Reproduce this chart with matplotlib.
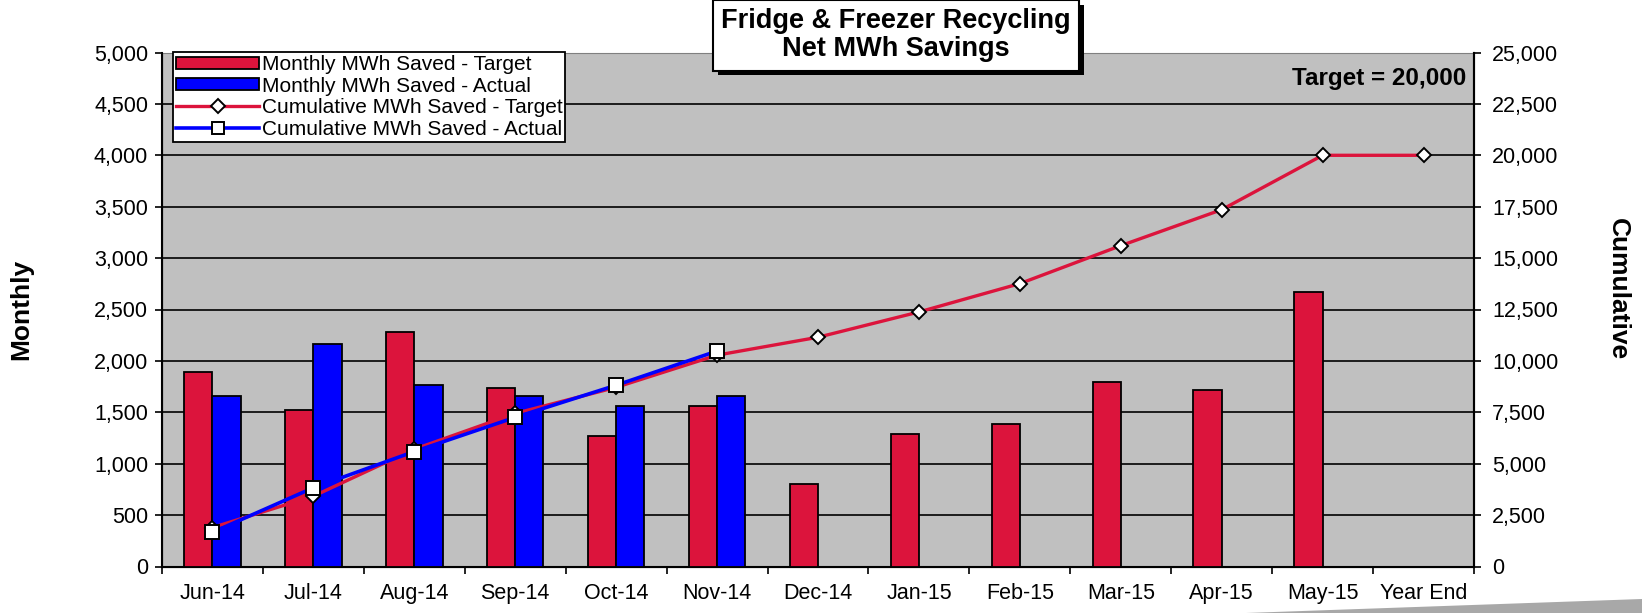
import matplotlib
matplotlib.use('Agg')
import matplotlib.pyplot as plt
import matplotlib.patheffects as pe
from matplotlib.patches import Patch, Polygon
from matplotlib.lines import Line2D
from matplotlib.ticker import FuncFormatter
import numpy as np

plt.rcParams['font.family'] = ['Liberation Sans', 'DejaVu Sans']

# data
months = ['Jun-14', 'Jul-14', 'Aug-14', 'Sep-14', 'Oct-14', 'Nov-14', 'Dec-14',
          'Jan-15', 'Feb-15', 'Mar-15', 'Apr-15', 'May-15', 'Year End']
target_monthly = [1895, 1523, 2285, 1741, 1270, 1565, 804, 1289, 1387, 1797, 1719, 2673]
actual_monthly = [1663, 2168, 1761, 1663, 1565, 1663]
target_cum = [1895, 3420, 5705, 7445, 8715, 10280, 11150, 12380, 13760, 15605, 17355, 20000, 20000]
actual_cum = [1663, 3831, 5592, 7255, 8817, 10480]

RED = '#DC143C'
BLUE = '#0000FF'

fig = plt.figure(figsize=(16.42, 6.13), dpi=100)
ax = fig.add_axes([162/1642, 1 - 566.5/613, (1474-162)/1642, (566.5-52.5)/613])
ax.set_facecolor('#C0C0C0')

x = np.arange(len(months))
w = 0.28
ax.bar(x[:len(target_monthly)] - w/2, target_monthly, w, color=RED, edgecolor='black', linewidth=1.3, zorder=3)
ax.bar(x[:len(actual_monthly)] + w/2, actual_monthly, w, color=BLUE, edgecolor='black', linewidth=1.3, zorder=3)

ax.set_xlim(-0.5, len(months) - 0.5)
ax.set_ylim(0, 5000)
ax.set_yticks(np.arange(0, 5001, 500))
ax.yaxis.set_major_formatter(FuncFormatter(lambda v, p: f'{v:,.0f}'))
ax.grid(axis='y', color='black', linewidth=1.2)
ax.set_axisbelow(True)

ax.set_xticks(x)
ax.set_xticklabels(months)
ax.set_xticks(np.arange(-0.5, len(months), 1), minor=True)
ax.tick_params(axis='x', which='major', length=0, pad=12, labelsize=15.5)
ax.tick_params(axis='x', which='minor', length=5, width=1.2, direction='out')
ax.tick_params(axis='y', length=5, width=1.2, pad=5, labelsize=15.5)

for s in ['left', 'bottom', 'right']:
    ax.spines[s].set_linewidth(1.5)
ax.spines['top'].set_color('#808080')

# cumulative lines on the right axis
ax2 = ax.twinx()
ax2.set_ylim(0, 25000)
ax2.set_yticks(np.arange(0, 25001, 2500))
ax2.yaxis.set_major_formatter(FuncFormatter(lambda v, p: f'{v:,.0f}'))
ax2.tick_params(axis='y', length=5, width=1.2, pad=8, labelsize=15.5)
ax2.spines['right'].set_linewidth(1.5)
ax2.spines['top'].set_visible(False)

ax2.plot(x, target_cum, color=RED, linewidth=2.4, marker='D', markersize=7.5,
         markerfacecolor='white', markeredgecolor='black', markeredgewidth=1.4, zorder=3)
ax2.plot(x[:len(actual_cum)], actual_cum, color=BLUE, linewidth=2.6, marker='s', markersize=9.5,
         markerfacecolor='white', markeredgecolor='black', markeredgewidth=1.4, zorder=4)

ax.set_ylabel('Monthly', fontsize=19, fontweight='bold')
ax.yaxis.set_label_coords(-0.098, 0.5)
ax2.set_ylabel('Cumulative', fontsize=19, fontweight='bold', rotation=-90, va='center', ha='center')
ax2.yaxis.set_label_coords(1.11, 0.54)

ax2.text(0.994, 0.949, 'Target = 20,000', transform=ax2.transAxes, ha='right', va='center',
         fontsize=17.5, fontweight='bold')

handles = [
    Patch(facecolor=RED, edgecolor='black', linewidth=1.3),
    Patch(facecolor=BLUE, edgecolor='black', linewidth=1.3),
    Line2D([], [], color=RED, linewidth=2.4, marker='D', markersize=7,
           markerfacecolor='white', markeredgecolor='black', markeredgewidth=1.4),
    Line2D([], [], color=BLUE, linewidth=2.6, marker='s', markersize=9,
           markerfacecolor='white', markeredgecolor='black', markeredgewidth=1.4),
]
labels = ['Monthly MWh Saved - Target', 'Monthly MWh Saved - Actual',
          'Cumulative MWh Saved - Target', 'Cumulative MWh Saved - Actual']
leg = ax2.legend(handles, labels, loc='upper left', bbox_to_anchor=(173/1642, 1 - 52/613),
                 bbox_transform=fig.transFigure, fontsize=15, frameon=True, fancybox=False,
                 edgecolor='black', framealpha=1, borderpad=0.15, labelspacing=0.12,
                 handlelength=4.0, handleheight=0.5, handletextpad=0.1, borderaxespad=0)
leg.get_frame().set_linewidth(1.3)
leg.set_zorder(10)

title = fig.text(896/1642, 1 - 35.5/613, 'Fridge & Freezer Recycling\nNet MWh Savings',
                 ha='center', va='center', fontsize=19.5, fontweight='bold', linespacing=1.1,
                 bbox=dict(boxstyle='square,pad=0.3', facecolor='white', edgecolor='black', linewidth=1.5))
title.get_bbox_patch().set_path_effects([
    pe.SimplePatchShadow(offset=(3.5, -3.5), shadow_rgbFace='black', alpha=1.0), pe.Normal()])

# grey swoosh in the bottom right corner of the slide
fig.patches.append(Polygon([[1246/1642, 0], [1, 14/613], [1, 0]], closed=True,
                           transform=fig.transFigure, facecolor='#A8A8A8', edgecolor='none'))

fig.savefig('out.png', dpi=100)
